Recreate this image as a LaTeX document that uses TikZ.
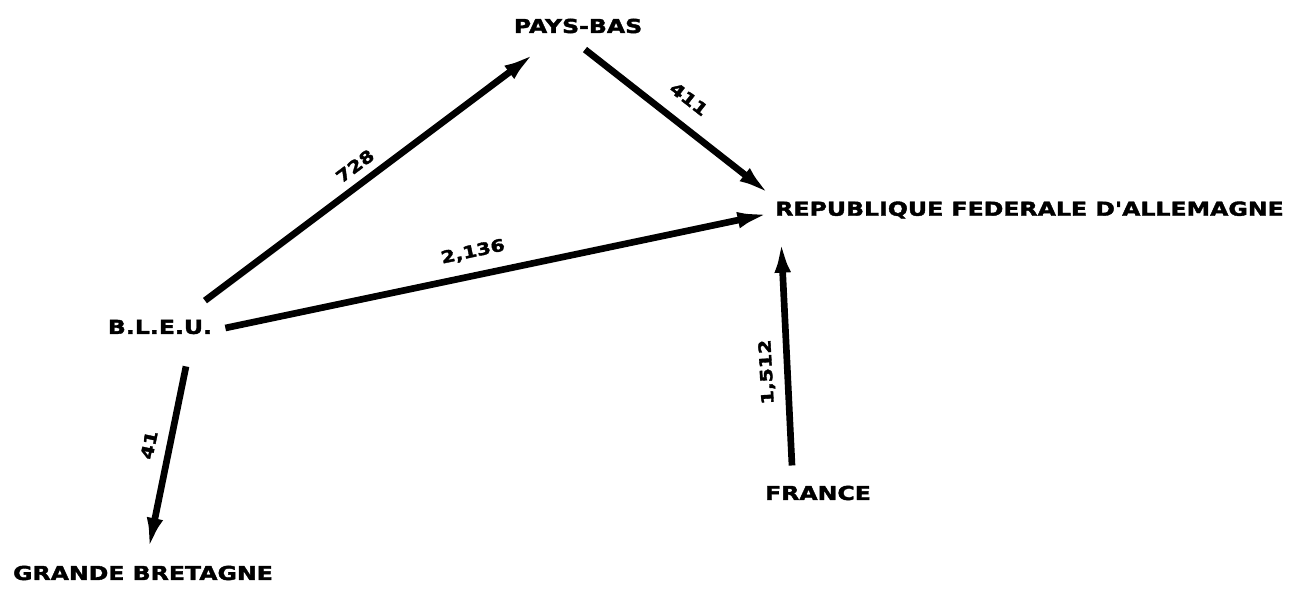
\documentclass[tikz,border=0pt]{standalone}
\usepackage{fontspec}
\setmainfont{DejaVu Sans}
\newfontfamily\lblfont{DejaVu Sans Bold}[FakeStretch=1.23, FakeBold=2]
\usetikzlibrary{arrows.meta}
\begin{document}
\begin{tikzpicture}[x=0.75pt,y=-0.75pt,
  lbl/.style={font=\lblfont\fontsize{14.4pt}{16pt}\selectfont, inner sep=0pt},
  num/.style={font=\lblfont\fontsize{12.5pt}{14pt}\selectfont, inner sep=0pt},
  arr/.style={line width=5pt, -{Latex[length=26pt,width=12pt]}}]
\useasboundingbox (0,0) rectangle (1293,589);
\node[lbl] (pb) at (578,26) {PAYS-BAS};
\node[lbl, anchor=west] (rfa) at (775,210) {REPUBLIQUE FEDERALE D'ALLEMAGNE};
\node[lbl] (bleu) at (160,327) {B.L.E.U.};
\node[lbl] (fr) at (818,493) {FRANCE};
\node[lbl] (gb) at (143,573) {GRANDE BRETAGNE};
\draw[arr] ([shift={(45,-19)}]bleu.north) -- ([shift={(-41,18)}]pb.south);
\draw[arr] ([shift={(7,16)}]pb.south) -- ([shift={(-3,-14)}]rfa.west);
\draw[arr] ([shift={(13,1)}]bleu.east) -- ([shift={(-3,3)}]rfa.west);
\draw[arr] ([shift={(-26,-20)}]fr.north) -- ([shift={(6,28)}]rfa.west);
\draw[arr] ([shift={(26,32)}]bleu.south) -- ([shift={(5,-13)}]gb.north);
\node[num, rotate=37] (n1) at (355,166) {728};
\node[num, rotate=-38] (n2) at (689,99) {411};
\node[num, rotate=12] (n3) at (473,252) {2,136};
\node[num, rotate=93] (n4) at (767,372) {1,512};
\node[num, rotate=78] (n5) at (149,445) {41};
\end{tikzpicture}
\end{document}
